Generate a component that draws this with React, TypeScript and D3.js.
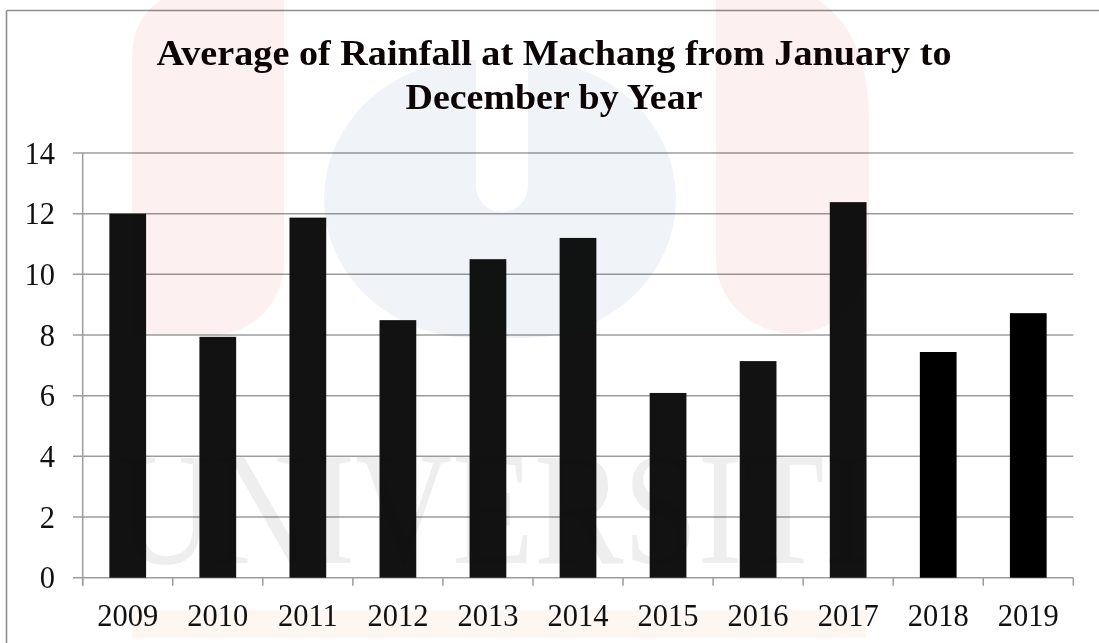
import React, { useEffect } from "react";
import * as d3 from "d3";

// Average rainfall at Machang, January–December, by year
const years: string[] = ["2009", "2010", "2011", "2012", "2013", "2014", "2015", "2016", "2017", "2018", "2019"];
const rainfall: number[] = [12.0, 7.94, 11.87, 8.49, 10.5, 11.2, 6.09, 7.14, 12.38, 7.44, 8.72];
const yTicks: number[] = [0, 2, 4, 6, 8, 10, 12, 14];
const titleLines: string[] = ["Average of Rainfall at Machang from January to", "December by Year"];

const W = 1099;
const H = 643;
const plot = { left: 82.7, right: 1073.3, top: 153, bottom: 577.7 };
const serif = "'Liberation Serif', 'Times New Roman', serif";

export default function App() {
  useEffect(() => {
    document.body.style.margin = "0";
    document.body.style.overflow = "hidden";
  }, []);

  const x = d3.scaleBand<string>().domain(years).range([plot.left, plot.right]).padding(0);
  const y = d3.scaleLinear().domain([0, 14]).range([plot.bottom, plot.top]);
  const barW = x.bandwidth() * 0.408;
  const boundaries = years.map((yr) => x(yr) as number).concat([plot.right]);

  return (
    <svg
      width={W}
      height={H}
      viewBox={`0 0 ${W} ${H}`}
      style={{ position: "absolute", left: 0, top: 0, background: "#fff", overflow: "hidden" }}
    >
      {/* outer chart frame: only its top and left edges fall inside the view */}
      <line x1={6.5} x2={W} y1={10.5} y2={10.5} stroke="#8e8e8e" strokeWidth={1.6} />
      <line x1={6.5} x2={6.5} y1={10.5} y2={H} stroke="#8e8e8e" strokeWidth={1.6} />

      {/* gridlines with left tick stubs */}
      {yTicks.map((t) => (
        <line
          key={"g" + t}
          x1={73}
          x2={plot.right}
          y1={y(t)}
          y2={y(t)}
          stroke="#9c9c9c"
          strokeWidth={1.5}
        />
      ))}

      {/* y axis */}
      <line x1={plot.left} x2={plot.left} y1={plot.top} y2={plot.bottom + 8} stroke="#9c9c9c" strokeWidth={1.5} />
      {/* category boundary ticks */}
      {boundaries.map((bx, i) => (
        <line key={"t" + i} x1={bx} x2={bx} y1={plot.bottom} y2={plot.bottom + 8} stroke="#9c9c9c" strokeWidth={1.5} />
      ))}

      {/* bars */}
      {years.map((yr, i) => {
        const cx = (x(yr) as number) + x.bandwidth() / 2;
        return (
          <rect
            key={yr}
            x={cx - barW / 2}
            y={y(rainfall[i])}
            width={barW}
            height={y(0) - y(rainfall[i])}
            fill={i >= 9 ? "#000" : "#121212"}
          />
        );
      })}

      {/* y tick labels */}
      {yTicks.map((t) => (
        <text
          key={"yl" + t}
          x={55}
          y={y(t) + 10.5}
          textAnchor="end"
          fontFamily={serif}
          fontSize={30.5}
          fill="#111"
        >
          {t}
        </text>
      ))}

      {/* x tick labels */}
      {years.map((yr) => (
        <text
          key={"xl" + yr}
          x={(x(yr) as number) + x.bandwidth() / 2}
          y={625.5}
          textAnchor="middle"
          fontFamily={serif}
          fontSize={30.5}
          fill="#111"
        >
          {yr}
        </text>
      ))}

      {/* title */}
      <text
        x={554}
        y={64.5}
        textAnchor="middle"
        fontFamily={serif}
        fontWeight="bold"
        fontSize={36}
        fill="#0d0505"
        textLength={795}
        lengthAdjust="spacingAndGlyphs"
      >
        {titleLines[0]}
      </text>
      <text
        x={554}
        y={108.5}
        textAnchor="middle"
        fontFamily={serif}
        fontWeight="bold"
        fontSize={36}
        fill="#0d0505"
        textLength={297}
        lengthAdjust="spacingAndGlyphs"
      >
        {titleLines[1]}
      </text>

      {/* faint background emblem, blended over the chart */}
      <g style={{ mixBlendMode: "multiply" }} pointerEvents="none">
        <path
          d="M132,335 L132,60 Q132,0 190,-10 L284,-10 L284,263 A72,72 0 0 1 212,335 Z"
          fill="#fdf0f0"
        />
        <rect x={324} y={60} width={352} height={278} rx={150} fill="#f0f4f9" />
        <rect x={476} y={-20} width={52} height={232} rx={26} fill="#ffffff" />
        <path
          d="M716,265 L716,-10 L800,-10 Q869,20 869,120 L869,265 A77,77 0 0 1 716,265 Z"
          fill="#fdf0f0"
        />
        <rect x={132} y={610} width={734} height={28} fill="#fef6f1" />
        <text
          x={117}
          y={563}
          fontFamily={serif}
          fontSize={160}
          fill="#eeeeee"
          textLength={752}
          lengthAdjust="spacingAndGlyphs"
        >
          UNIVERSITI
        </text>
      </g>
    </svg>
  );
}
